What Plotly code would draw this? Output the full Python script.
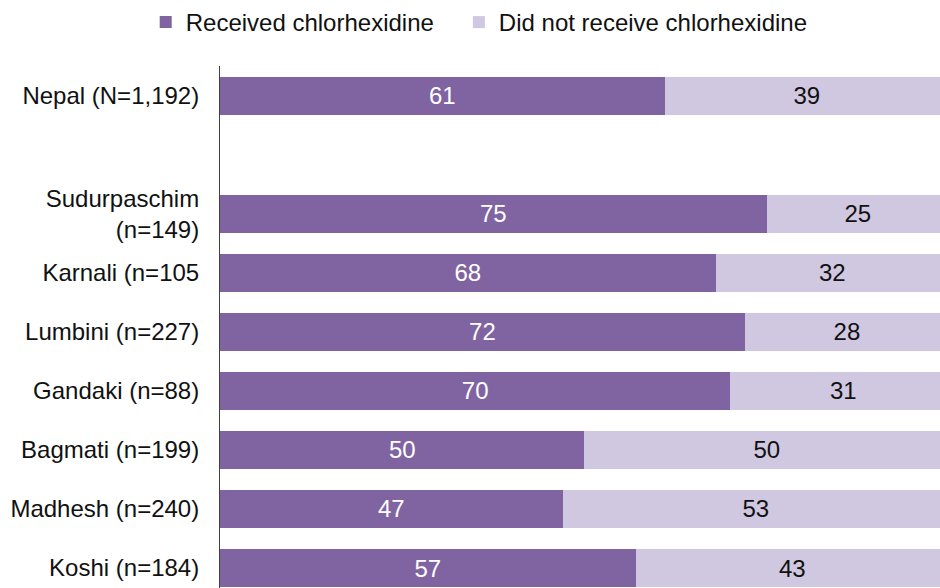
import plotly.graph_objects as go

categories = ["Nepal (N=1,192)", "Sudurpaschim<br>(n=149)", "Karnali (n=105", "Lumbini (n=227)",
              "Gandaki (n=88)", "Bagmati (n=199)", "Madhesh (n=240)", "Koshi (n=184)"]
positions = [0, 2, 3, 4, 5, 6, 7, 8]
received = [61, 75, 68, 72, 70, 50, 47, 57]
not_received = [39, 25, 32, 28, 31, 50, 53, 43]
series_names = ["Received chlorhexidine", "Did not receive chlorhexidine"]

DARK = "#8064A2"
LIGHT = "#D0C7E0"
FONT = "Liberation Sans, Arial, sans-serif"
FS = 24
PAD = "\u00a0\u00a0\u00a0"

fig = go.Figure()
fig.add_trace(go.Bar(
    y=positions, x=received, orientation="h", name=series_names[0] + PAD,
    marker=dict(color=DARK, line=dict(width=0)), width=0.644,
    text=[str(v) for v in received], textposition="inside", insidetextanchor="middle",
    textfont=dict(color="white", size=FS, family=FONT), textangle=0,
))
fig.add_trace(go.Bar(
    y=positions, x=not_received, orientation="h", name=series_names[1],
    marker=dict(color=LIGHT, line=dict(width=0)), width=0.644,
    text=[str(v) for v in not_received], textposition="inside", insidetextanchor="middle",
    textfont=dict(color="#111111", size=FS, family=FONT), textangle=0,
))

fig.update_layout(
    barmode="stack",
    width=940, height=588,
    margin=dict(l=220, r=0, t=66, b=0, pad=0),
    paper_bgcolor="white", plot_bgcolor="white",
    font=dict(family=FONT, size=FS, color="#111111"),
    uniformtext=dict(mode=False),
    legend=dict(orientation="h", x=0.155, xanchor="left", xref="container",
                y=1.0, yanchor="top", yref="container",
                font=dict(size=FS, family=FONT, color="#111111"),
                traceorder="normal", tracegroupgap=0),
    showlegend=True,
)
fig.update_xaxes(range=[0, 98.77], visible=False, fixedrange=True)
fig.update_yaxes(range=[8.339, -0.508], tickvals=positions, ticktext=categories,
                 showline=True, linecolor="#404040", linewidth=1, showgrid=False,
                 zeroline=False, ticks="", ticklabelstandoff=15,
                 tickfont=dict(size=FS, family=FONT, color="#111111"))

fig.write_html("out.html")
